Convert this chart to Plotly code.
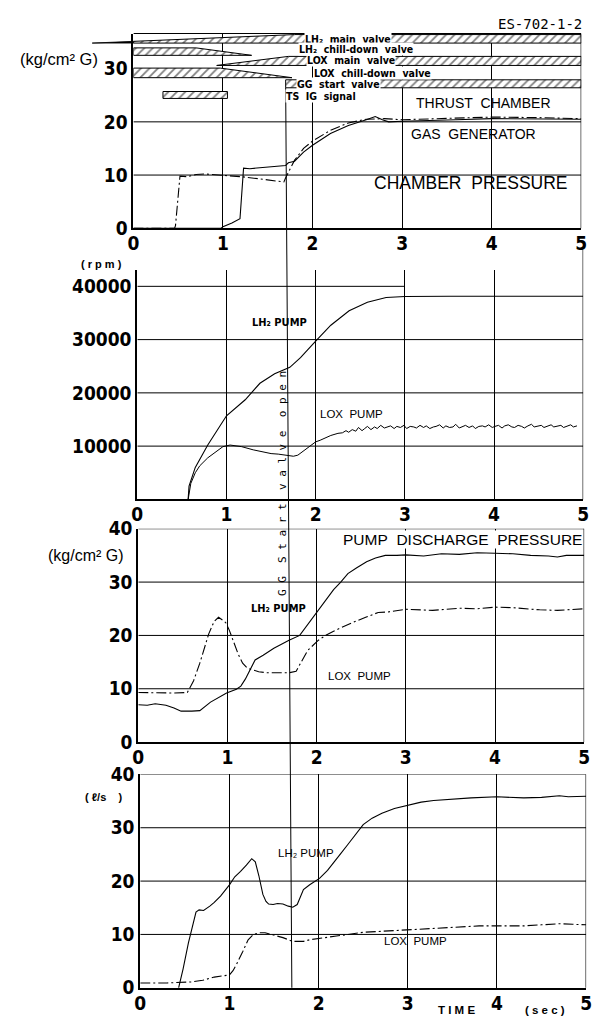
import plotly.graph_objects as go

W, H = 599, 1034

# ---------------- data ----------------
time_ticks = [0, 1, 2, 3, 4, 5]

# Panel 1: chamber pressure (kg/cm2 G)
tc_t = [0, 0.46, 0.47, 0.5, 0.52, 0.6, 0.7, 0.8, 1.0, 1.2, 1.4, 1.6, 1.68, 1.7, 1.72, 1.8, 1.9, 2.0, 2.2, 2.4,
        2.6, 2.8, 3.0, 3.5, 4.0, 4.5, 5.0]
tc_p = [0, 0, 0.5, 7.0, 9.8, 9.7, 10.1, 10.2, 10.0, 9.7, 9.3, 8.9, 8.7, 9.5, 10.2, 12.8, 15.0, 16.4, 18.4, 19.8,
        20.5, 20.6, 20.4, 20.6, 20.9, 20.8, 20.6]
gg_t = [0, 0.98, 1.0, 1.1, 1.19, 1.21, 1.23, 1.3, 1.45, 1.6, 1.7, 1.73, 1.8, 1.9, 2.0, 2.2, 2.4, 2.6, 2.7, 2.78,
        2.85, 3.0, 3.3, 3.6, 4.0, 4.5, 5.0]
gg_p = [0, 0, 0.3, 1.0, 1.8, 6.0, 11.3, 11.2, 11.4, 11.7, 11.8, 12.3, 12.6, 14.3, 15.6, 17.8, 19.3, 20.4, 21.0, 20.4,
        20.0, 20.1, 20.2, 20.4, 20.6, 20.6, 20.5]
p1_yticks = [0, 10, 20, 30]
p1_hgrid = [10, 20]

# Valve sequence bars: name, low/high edge (y units), opening tip, fully open, start closing, closed
valve_names = ["LH₂ main valve", "LH₂ chill-down valve", "LOX main valve", "LOX chill-down valve",
               "GG start valve", "TS IG signal"]
valve_low = [34.8, 32.5, 30.6, 28.3, 26.4, 24.4]
valve_high = [36.4, 33.9, 32.3, 30.1, 27.9, 25.7]
valve_a = [-0.46, 0.0, 0.93, 0.0, 1.70, 0.33]
valve_b = [1.80, 0.0, 1.73, 0.0, 1.70, 0.33]
valve_c = [5.0, 0.70, 5.0, 0.97, 5.0, 1.05]
valve_d = [5.0, 1.32, 5.0, 1.77, 5.0, 1.05]
valve_label_t = [2.40, 2.48, 2.43, 2.67, 2.29, 2.09]
valve_label_y = [35.5, 33.6, 31.6, 29.2, 27.2, 24.9]

# Panel 2: pump rotational speed (rpm)
lh2_spd_t = [0.57, 0.58, 0.65, 0.79, 1.0, 1.21, 1.375, 1.54, 1.71, 1.83, 2.0, 2.17, 2.375, 2.58, 2.79, 3.0, 3.5,
             4.0, 4.5, 5.0]
lh2_spd = [0, 2500, 6000, 10200, 15700, 18700, 21800, 23600, 24800, 26600, 29700, 32700, 35400, 37000, 37900,
           38100, 38150, 38150, 38100, 38150]
lox_spd_t = [0.57, 0.60, 0.65, 0.70, 0.79, 0.90, 0.96, 1.04, 1.17, 1.30, 1.40, 1.50, 1.58, 1.70, 1.75, 1.80, 1.875,
             1.95, 2.0, 2.05, 2.10, 2.17, 2.25,
             2.30, 2.34, 2.37, 2.41, 2.45, 2.48, 2.52, 2.55, 2.58, 2.62, 2.66, 2.69, 2.73, 2.77, 2.80, 2.84, 2.88,
             2.91, 2.95, 2.99, 3.02, 3.06, 3.10, 3.13, 3.17, 3.21, 3.24, 3.28, 3.32, 3.35, 3.39, 3.43, 3.46, 3.50,
             3.54, 3.57, 3.61, 3.65, 3.68, 3.72, 3.76, 3.79, 3.83, 3.87, 3.90, 3.94, 3.98, 4.01, 4.05, 4.09, 4.12,
             4.16, 4.20, 4.23, 4.27, 4.31, 4.34, 4.38, 4.42, 4.45, 4.49, 4.53, 4.56, 4.60, 4.64, 4.67, 4.71, 4.75,
             4.78, 4.82, 4.86, 4.89, 4.93, 4.97, 5.00]
lox_spd = [0, 3000, 5000, 6300, 7800, 9200, 9900, 10200, 9900, 9300, 8900, 8600, 8500, 8200, 8100, 8300, 9300,
           10200, 10800, 11100, 11500, 12000, 12400,
           12500, 12900, 12600, 13100, 12800, 13500, 12900, 13300, 13700, 13100, 13600, 13300, 13900, 13400, 13600,
           13800, 13300, 13700, 13500, 13900, 13300, 13700, 13600, 13400, 13900, 13500, 13800, 13300, 13600, 13700,
           14000, 13400, 13800, 13500, 13600, 14100, 13400, 13700, 13900, 13500, 13800, 13300, 13700, 13800, 13600,
           14000, 13500, 13700, 13900, 13400, 13800, 14000, 13600, 13500, 13900, 13700, 13400, 13800, 14100, 13600,
           13700, 13900, 13500, 13800, 14000, 13600, 13700, 13900, 13500, 13800, 14000, 13600, 13800]
p2_yticks = [10000, 20000, 30000, 40000]
p2_ytext = ["10000", "20000", "30000", "40000"]
p2_hgrid = [10000, 20000, 30000]
p2_hgrid_short = [40000]

# Panel 3: pump discharge pressure (kg/cm2 G)
lh2_dp_t = [0, 0.1, 0.19, 0.31, 0.4, 0.48, 0.6, 0.69, 0.81, 0.9, 0.99, 1.1, 1.15, 1.2, 1.25, 1.31, 1.4, 1.52, 1.6,
            1.69, 1.81, 1.9, 1.99, 2.1, 2.19, 2.27, 2.35, 2.45, 2.56, 2.66, 2.77, 2.9, 3.0, 3.2, 3.4, 3.6, 3.8, 4.0,
            4.2, 4.4, 4.6, 4.7, 4.8, 5.0]
lh2_dp = [7.0, 6.9, 7.2, 6.9, 6.4, 5.8, 5.8, 5.9, 7.5, 8.3, 9.2, 9.9, 10.5, 11.8, 13.4, 15.4, 16.3, 17.6, 18.3,
          19.1, 20.0, 22.0, 24.1, 26.5, 28.6, 30.0, 31.6, 32.7, 33.8, 34.5, 35.0, 35.0, 35.1, 34.9, 35.3, 35.2, 35.5,
          35.4, 35.3, 35.0, 34.9, 34.7, 35.0, 35.0]
lox_dp_t = [0, 0.2, 0.4, 0.55, 0.62, 0.69, 0.75, 0.79, 0.85, 0.9, 0.95, 0.98, 1.02, 1.06, 1.12, 1.17, 1.22, 1.27,
            1.35, 1.44, 1.55, 1.69, 1.77, 1.83, 1.9, 2.02, 2.1, 2.19, 2.3, 2.4, 2.55, 2.69, 2.8, 3.0, 3.3, 3.6, 3.8,
            4.0, 4.2, 4.5, 4.7, 5.0]
lox_dp = [9.3, 9.2, 9.2, 9.3, 11.5, 14.8, 18.0, 20.3, 22.6, 23.4, 22.8, 22.4, 21.0, 19.1, 16.5, 14.8, 13.9, 13.6,
          13.2, 13.0, 13.0, 13.0, 13.3, 15.0, 17.2, 19.1, 20.0, 20.8, 21.7, 22.4, 23.4, 24.3, 24.4, 24.9, 24.7,
          25.1, 25.0, 25.3, 25.2, 24.8, 24.7, 25.0]
p3_yticks = [0, 10, 20, 30, 40]
p3_hgrid = [10, 20, 30, 40]

# Panel 4: pump flow rate (l/s)
lh2_fr_t = [0.43, 0.48, 0.54, 0.6, 0.625, 0.66, 0.71, 0.78, 0.83, 0.9, 1.0, 1.06, 1.125, 1.19, 1.25, 1.29, 1.33,
            1.375, 1.41, 1.44, 1.49, 1.54, 1.6, 1.66, 1.71, 1.76, 1.83, 1.9, 2.01, 2.1, 2.17, 2.25, 2.33, 2.42, 2.5,
            2.6, 2.71, 2.85, 3.0, 3.15, 3.29, 3.5, 3.71, 4.0, 4.3, 4.5, 4.7, 4.8, 5.0]
lh2_fr = [0, 3.5, 8.4, 12.5, 14.2, 14.6, 14.5, 15.3, 16.0, 17.2, 19.3, 20.8, 21.8, 23.0, 24.2, 23.6, 21.0, 17.5,
          16.2, 15.7, 15.6, 15.8, 15.7, 15.3, 15.1, 15.6, 18.4, 19.3, 20.5, 22.0, 23.6, 25.2, 26.9, 28.8, 30.6, 31.8,
          32.7, 33.6, 34.2, 34.8, 35.1, 35.4, 35.6, 35.8, 35.6, 35.7, 36.0, 35.8, 35.9]
lox_fr_t = [0, 0.3, 0.58, 0.7, 0.83, 1.0, 1.04, 1.08, 1.15, 1.21, 1.27, 1.33, 1.4, 1.5, 1.6, 1.71, 1.83, 1.9, 2.01,
            2.2, 2.5, 2.8, 3.0, 3.3, 3.5, 3.8, 4.0, 4.3, 4.5, 4.7, 4.85, 5.0]
lox_fr = [0.9, 0.9, 1.1, 1.4, 2.0, 2.4, 3.2, 4.4, 6.8, 9.0, 10.0, 10.3, 10.3, 9.9, 9.4, 8.7, 8.7, 9.0, 9.3, 9.7,
          10.4, 10.7, 10.9, 11.2, 11.4, 11.6, 11.6, 11.6, 11.8, 12.0, 11.9, 11.8]
p4_yticks = [0, 10, 20, 30, 40]
p4_hgrid = [10, 20, 30, 40]

# ---------------- layout geometry (pixels) ----------------
panels = [
    dict(x0=130, x1=587, yt=23, yb=222, yr=[0, 36.6], yt_vals=p1_yticks, yt_text=[str(v) for v in p1_yticks]),
    dict(x0=134, x1=589, yt=265, yb=499, yr=[0, 43000], yt_vals=p2_yticks, yt_text=p2_ytext),
    dict(x0=135, x1=590, yt=529, yb=747, yr=[0, 40], yt_vals=p3_yticks, yt_text=[str(v) for v in p3_yticks]),
    dict(x0=137, x1=592, yt=780, yb=998, yr=[0, 40], yt_vals=p4_yticks, yt_text=[str(v) for v in p4_yticks]),
]

TICKFONT = dict(family="DejaVu Sans Condensed, Liberation Sans Narrow, sans-serif", size=19, color="black",
                weight="bold")
LBL = "Liberation Sans, Arial, sans-serif"
BOLDN = "DejaVu Sans Condensed, Liberation Sans Narrow, sans-serif"

fig = go.Figure()
layout = dict(width=W, height=H, margin=dict(l=0, r=0, t=0, b=0), paper_bgcolor="white", plot_bgcolor="white",
              showlegend=False)

for i, p in enumerate(panels, start=1):
    sx = "" if i == 1 else str(i)
    layout["xaxis" + sx] = dict(domain=[p["x0"] / W, p["x1"] / W], range=[0, 5], anchor="y" + sx,
                                tickvals=time_ticks, ticktext=[str(v) for v in time_ticks], tickfont=TICKFONT,
                                showline=True, linecolor="black", linewidth=2, showgrid=True, gridcolor="black",
                                gridwidth=1, zeroline=False, ticks="", fixedrange=True)
    layout["yaxis" + sx] = dict(domain=[1 - p["yb"] / H, 1 - p["yt"] / H], range=p["yr"], anchor="x" + sx,
                                tickvals=p["yt_vals"], ticktext=p["yt_text"], tickfont=TICKFONT,
                                showline=True, linecolor="black", linewidth=2, showgrid=False, zeroline=False,
                                ticks="", fixedrange=True)

fig.update_layout(**layout)
for i in range(1, 5):
    sx = "" if i == 1 else str(i)
    try:
        fig.layout["xaxis" + sx].ticklabelstandoff = -3
    except Exception:
        pass

SOLID = dict(color="black", width=1.1)
DASHDOT = dict(color="black", width=1.1, dash="10px,3px,2px,3px")


def line(x, y, ax, style):
    fig.add_trace(go.Scatter(x=x, y=y, mode="lines", line=style, xaxis="x" + ax, yaxis="y" + ax,
                             hoverinfo="skip"))


# horizontal grid lines (as shapes below traces)
shapes = []


def hline(ax, y, x1=5):
    shapes.append(dict(type="line", xref="x" + ax, yref="y" + ax, x0=0, x1=x1, y0=y, y1=y,
                       line=dict(color="black", width=1), layer="below"))


for v in p1_hgrid:
    hline("", v)
for v in p2_hgrid:
    hline("2", v)
for v in p2_hgrid_short:
    hline("2", v, 3)
for v in p3_hgrid:
    hline("3", v)
for v in p4_hgrid:
    hline("4", v)

# right borders / top border of panel 1
for i, p in enumerate(panels, start=1):
    sx = "" if i == 1 else str(i)
    top = 1.0 if i != 2 else 1.09
    shapes.append(dict(type="line", xref="x" + sx, yref="y" + sx + " domain", x0=5, x1=5, y0=0, y1=top,
                       line=dict(color="black", width=1.2)))
shapes.append(dict(type="line", xref="x", yref="y domain", x0=0, x1=5, y0=1, y1=1,
                   line=dict(color="black", width=1.2)))

# valve bars (hatched)
for k, name in enumerate(valve_names):
    xs = [valve_a[k], valve_b[k], valve_c[k], valve_d[k], valve_a[k]]
    ys = [valve_low[k], valve_high[k], valve_high[k], valve_low[k], valve_low[k]]
    fig.add_trace(go.Scatter(x=xs, y=ys, mode="lines", fill="toself", fillcolor="white",
                             fillpattern=dict(shape="/", fgcolor="black", bgcolor="white", size=6, solidity=0.3),
                             line=dict(color="black", width=1), xaxis="x", yaxis="y", hoverinfo="skip"))

# wedge tip of LH2 main valve that starts left of the frame
p1 = panels[0]
tip_px = p1["x0"] + valve_a[0] / 5 * (p1["x1"] - p1["x0"])
px_per_unit = (p1["yb"] - p1["yt"]) / p1["yr"][1]
y_low_px = p1["yb"] - valve_low[0] * px_per_unit
edge_h = (valve_high[0] - valve_low[0]) * (0 - valve_a[0]) / (valve_b[0] - valve_a[0]) * px_per_unit
shapes.append(dict(type="path", xref="paper", yref="paper",
                   path=f"M {tip_px / W},{1 - y_low_px / H} L {p1['x0'] / W},{1 - (y_low_px - edge_h) / H} "
                        f"L {p1['x0'] / W},{1 - y_low_px / H} Z",
                   fillcolor="black", line=dict(color="black", width=0.8)))

# curves
line(tc_t, tc_p, "", DASHDOT)
line(gg_t, gg_p, "", SOLID)
line(lh2_spd_t, lh2_spd, "2", SOLID)
line(lox_spd_t, lox_spd, "2", dict(color="black", width=1))
line(lh2_dp_t, lh2_dp, "3", SOLID)
line(lox_dp_t, lox_dp, "3", DASHDOT)
line(lh2_fr_t, lh2_fr, "4", SOLID)
line(lox_fr_t, lox_fr, "4", DASHDOT)

# GG start valve open vertical line through all panels
p4 = panels[3]
gg_open = valve_a[4]
gx_top = p1["x0"] + gg_open / 5 * (p1["x1"] - p1["x0"])
gx_bot = p4["x0"] + gg_open / 5 * (p4["x1"] - p4["x0"])
gy_top = p1["yb"] - valve_low[4] * px_per_unit
shapes.append(dict(type="line", xref="paper", yref="paper", x0=gx_top / W, x1=gx_bot / W,
                   y0=1 - gy_top / H, y1=1 - p4["yb"] / H, line=dict(color="black", width=1)))

fig.update_layout(shapes=shapes)

# ---------------- annotations ----------------
ann = []
NB = "\u00a0"


def sp(s, n=2):
    return s.replace(" ", NB * n)


def data_text(ax, x, y, text, size=11, family=LBL, bg=None, weight="normal"):
    d = dict(xref="x" + ax, yref="y" + ax, x=x, y=y, text=text, showarrow=False,
             font=dict(family=family, size=size, color="black", weight=weight), xanchor="center",
             yanchor="middle")
    if bg:
        d.update(bgcolor=bg, borderpad=0)
    ann.append(d)


def px_text(px, py, text, size=11, family=LBL, angle=0, weight="normal"):
    ann.append(dict(xref="paper", yref="paper", x=px / W, y=1 - py / H, text=text, showarrow=False,
                    font=dict(family=family, size=size, color="black", weight=weight), xanchor="center",
                    yanchor="middle", textangle=angle))


# valve labels
for k, name in enumerate(valve_names):
    data_text("", valve_label_t[k], valve_label_y[k], sp(name, 2), size=10.5,
              family=BOLDN, bg="white", weight="bold")

data_text("", 3.91, 23.5, sp("THRUST CHAMBER"), size=14, family=LBL)
data_text("", 3.80, 17.8, sp("GAS GENERATOR"), size=14, family=LBL)
data_text("", 3.77, 8.5, sp("CHAMBER PRESSURE"), size=17.5, family=LBL)

data_text("2", 3.70, 45800, sp("PUMP ROTATIONAL SPEED"), size=15, family=LBL)
data_text("2", 1.59, 33300, "LH₂ PUMP", size=11, family=BOLDN, weight="bold")
data_text("2", 2.40, 16000, sp("LOX PUMP"), size=11.5, family=LBL)

data_text("3", 3.64, 38.0, sp("PUMP DISCHARGE PRESSURE"), size=15.5, family=LBL, bg="white")
data_text("3", 1.57, 25.1, "LH₂ PUMP", size=11, family=BOLDN, weight="bold")
data_text("3", 2.48, 12.3, sp("LOX PUMP"), size=11.5, family=LBL)

data_text("4", 3.82, 40.3, NB + sp("PUMP FLOW RATE") + NB, size=15, family=LBL, bg="white")
data_text("4", 1.86, 25.3, "LH₂ PUMP", size=11.5, family=LBL)
data_text("4", 3.09, 8.8, sp("LOX PUMP"), size=11.5, family=LBL)

px_text(54, 49, "(kg/cm² G)", size=16.5, family=LBL)
px_text(82, 556, "(kg/cm² G)", size=16, family=LBL)
px_text(97, 258, "(" + NB + "r" + NB + "p" + NB + "m" + NB + ")", size=11, family=LBL, weight="bold")
px_text(100, 803, "(" + NB + "ℓ/s" + NB * 4 + ")", size=11, family=LBL, weight="bold")
px_text(545, 13, "ES-702-1-2", size=14, family="DejaVu Sans Mono, monospace")
px_text(460, 1021, NB.join("TIME"), size=11.5, family=LBL, weight="bold")
px_text(550, 1021, NB.join("(sec)"), size=11.5, family=LBL, weight="bold")
gg_label = (NB * 2).join([NB.join(w) for w in ["GG", "Start", "valve", "open"]])
px_text(282, 483, gg_label, size=11, family="DejaVu Sans Mono, monospace", angle=-90)

fig.update_layout(annotations=ann)

fig.write_html("out.html", config={"displayModeBar": False},
               post_script="document.body.style.margin='0';document.body.style.overflow='hidden';")
